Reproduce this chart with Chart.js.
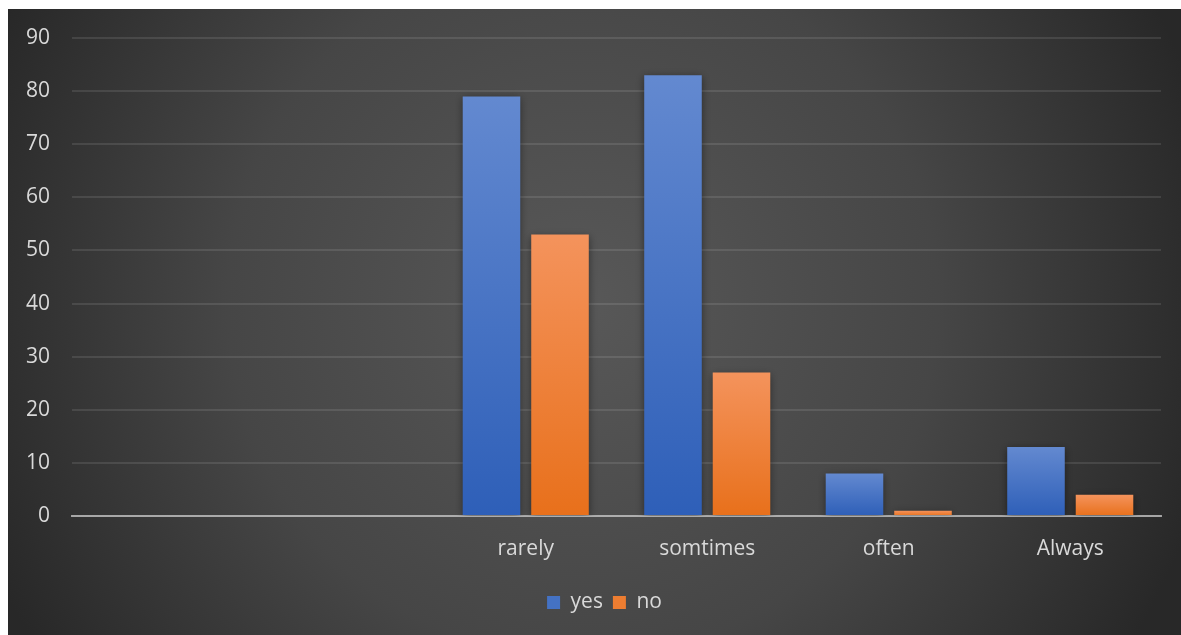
<!DOCTYPE html>
<html>
<head>
<meta charset="utf-8">
<script src="https://cdn.jsdelivr.net/npm/chart.js@4.4.1/dist/chart.umd.min.js"></script>
<style>
  html, body { margin: 0; padding: 0; background: #ffffff; width: 1181px; height: 635px; overflow: hidden; }
  #wrap { position: absolute; left: 8px; top: 9px; width: 1173px; height: 626px; }
</style>
</head>
<body>
<div id="wrap"><canvas id="c"></canvas></div>
<script>
const categories = ['', '', 'rarely', 'somtimes', 'often', 'Always'];
const yesValues = [null, null, 79, 83, 8, 13];
const noValues = [null, null, 53, 27, 1, 4];
const seriesNames = ['yes', 'no'];
const yTicks = { min: 0, max: 90, step: 10 };

const FONT = "'Open Sans', 'Noto Sans', sans-serif";
const TEXT = '#d9d9d9';

function barGradient(top, bottom, solid) {
  return function (ctx) {
    const chart = ctx.chart;
    if (ctx.raw === undefined || ctx.raw === null || !chart.chartArea || !chart.scales.y) return solid;
    const y = chart.scales.y;
    const y0 = y.getPixelForValue(ctx.raw);
    const y1 = y.getPixelForValue(0);
    if (!isFinite(y0) || !isFinite(y1) || y0 === y1) return solid;
    const g = chart.ctx.createLinearGradient(0, y0, 0, y1);
    g.addColorStop(0, top);
    g.addColorStop(1, bottom);
    return g;
  };
}

const bgPlugin = {
  id: 'bg',
  beforeDraw(chart) {
    const { ctx, width, height } = chart;
    const cx = width * 0.49, cy = height * 0.47;
    const r = Math.sqrt(cx * cx + cy * cy);
    const g = ctx.createRadialGradient(cx, cy, 0, cx, cy, r);
    g.addColorStop(0, '#585858');
    g.addColorStop(0.55, '#464646');
    g.addColorStop(1, '#282828');
    ctx.save();
    ctx.fillStyle = g;
    ctx.fillRect(0, 0, width, height);
    ctx.restore();
  }
};

const legendShift = {
  id: 'legendShift',
  afterLayout(chart) {
    const lg = chart.legend;
    if (lg) { lg.left += 20; lg.right += 20; }
  }
};

const shadowPlugin = {
  id: 'barShadow',
  beforeDatasetsDraw(chart) {
    const ctx = chart.ctx;
    ctx.save();
    ctx.shadowColor = 'rgba(0,0,0,0.45)';
    ctx.shadowBlur = 8;
    ctx.shadowOffsetX = 0;
    ctx.shadowOffsetY = 2;
  },
  afterDatasetsDraw(chart) {
    chart.ctx.restore();
  }
};

new Chart(document.getElementById('c'), {
  type: 'bar',
  data: {
    labels: categories,
    datasets: [
      {
        label: seriesNames[0],
        data: yesValues,
        backgroundColor: barGradient('#6389d0', '#2e5fb8', '#4472c4'),
        borderWidth: 0
      },
      {
        label: seriesNames[1],
        data: noValues,
        backgroundColor: barGradient('#f4935c', '#e8701b', '#ed7d31'),
        borderWidth: 0
      }
    ]
  },
  options: {
    responsive: true,
    maintainAspectRatio: false,
    animation: false,
    layout: { padding: { left: 0, right: 20, top: 29, bottom: 12 } },
    datasets: { bar: { categoryPercentage: 0.755, barPercentage: 0.84 } },
    plugins: {
      tooltip: { enabled: false },
      legend: {
        position: 'bottom',
        labels: {
          color: TEXT,
          font: { family: FONT, size: 21 },
          boxWidth: 13,
          boxHeight: 13,
          padding: 10
        }
      }
    },
    scales: {
      x: {
        z: 1,
        grid: { display: false, drawTicks: false },
        border: { display: true, color: 'rgba(200,200,200,0.75)', width: 2 },
        ticks: { color: TEXT, font: { family: FONT, size: 21 }, padding: 20, maxRotation: 0 },
        afterFit(scale) { scale.height = 66; }
      },
      y: {
        min: yTicks.min,
        max: yTicks.max,
        grid: { color: 'rgba(255,255,255,0.1)', lineWidth: 2, drawTicks: false },
        border: { display: false },
        ticks: { stepSize: yTicks.step, color: TEXT, font: { family: FONT, size: 21 }, padding: 22 },
        afterFit(scale) { scale.width = 64; scale.paddingTop = 0; scale.paddingBottom = 0; }
      }
    }
  },
  plugins: [bgPlugin, legendShift, shadowPlugin]
});
</script>
</body>
</html>
